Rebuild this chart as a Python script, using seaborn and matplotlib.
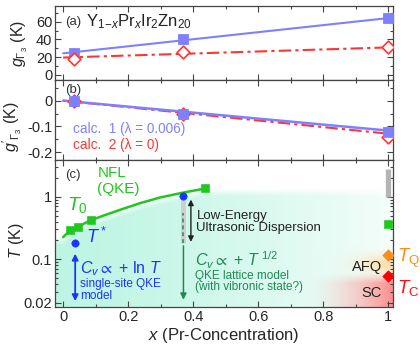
import numpy as np
import matplotlib
matplotlib.use("Agg")
import matplotlib.pyplot as plt
import seaborn as sns
from matplotlib.ticker import MultipleLocator, FixedLocator, FixedFormatter, LogLocator, NullFormatter

# ---------------------------------------------------------------
# data
# ---------------------------------------------------------------
conc = [0.034, 0.37, 1.0]
g_calc1 = [25, 40, 64]
g_calc2 = [18, 26, 31.5]
fit_x = [0.0, 1.0]
g_fit1 = [24.3, 64.3]
g_fit2 = [19.5, 31.0]

gp_calc1 = [0.0, -0.052, -0.12]
gp_calc2 = [0.0, -0.05, -0.14]
gp_fit1 = [0.0, -0.116]
gp_fit2 = [0.0, -0.128]

t0_x = [0.022, 0.045, 0.085, 0.437, 1.0]
t0_T = [0.29, 0.33, 0.42, 1.36, 0.365]
t0_curve_x = [0.0, 0.022, 0.045, 0.085, 0.12, 0.18, 0.24, 0.30, 0.37, 0.437]
t0_curve_T = [0.225, 0.29, 0.33, 0.42, 0.49, 0.63, 0.80, 0.98, 1.17, 1.36]
tstar_x = [0.037, 0.37]
tstar_T = [0.18, 1.02]
tq_x, tq_T = [1.0], [0.116]
tc_x, tc_T = [1.0], [0.053]

BLUE = "#8080ff"
RED = "#ff3535"
GREEN = "#1ec81e"
DKGREEN = "#1f8a55"
DOTBLUE = "#1a35ff"
ORANGE = "#ff8c1a"

sns.set_theme(style="ticks")
plt.rcParams["font.family"] = ["Liberation Sans", "DejaVu Sans"]
plt.rcParams["mathtext.fontset"] = "custom"
plt.rcParams["mathtext.rm"] = "Liberation Sans"
plt.rcParams["mathtext.it"] = "Liberation Sans:italic"
plt.rcParams["mathtext.bf"] = "Liberation Sans:bold"
plt.rcParams["mathtext.fallback"] = "stixsans"

XLIM = (-0.025, 1.015)
YLIM_C = (0.017, 3.9)

fig = plt.figure(figsize=(4.2, 3.54), dpi=100)
L, W = 0.131, 0.805
ax_a = fig.add_axes([L, 0.774, W, 0.209])
ax_b = fig.add_axes([L, 0.548, W, 0.226])
bg = fig.add_axes([L, 0.133, W, 0.415], zorder=0)
ax_c = fig.add_axes([L, 0.133, W, 0.415], zorder=1)

# --- background shading of panel (c) ---
H, Wp = 300, 400
fx = np.linspace(0, 1, Wp)[None, :]
fy = np.linspace(0, 1, H)[:, None]

def to_fy(T):
    T = np.asarray(T)
    return (np.log10(T) - np.log10(YLIM_C[0])) / (np.log10(YLIM_C[1]) - np.log10(YLIM_C[0]))

curve_fx = (np.array(t0_curve_x) - XLIM[0]) / (XLIM[1] - XLIM[0])
edge = np.interp(fx, curve_fx, to_fy(t0_curve_T))
s_c = (1 - 0.85 * fx ** 1.3) * np.clip((edge - fy) / 0.05, 0, 1)
s_o = 0.7 * np.exp(-(((fx - 1.0) / 0.10) ** 2 + ((fy - 0.29) / 0.065) ** 2))
s_r = 0.85 * np.clip((fx - 0.74) / 0.26, 0, 1) ** 1.6 * np.clip((0.23 - fy) / 0.07, 0, 1)
img = np.ones((H, Wp, 3))
for s, col in [(s_c, (0.74, 0.96, 0.89)), (s_o, (1.0, 0.82, 0.55)), (s_r, (1.0, 0.47, 0.47))]:
    s = np.broadcast_to(s, (H, Wp))[..., None]
    img = img * (1 - s) + np.array(col) * s
bg.imshow(img, extent=(0, 1, 0, 1), origin="lower", aspect="auto", interpolation="bilinear")
bg.set_axis_off()
ax_c.set_facecolor("none")

# --- (a) ---
sns.lineplot(x=fit_x, y=g_fit2, ax=ax_a, color=RED, lw=1.5, linestyle=(0, (6, 2, 1.5, 2)))
sns.lineplot(x=fit_x, y=g_fit1, ax=ax_a, color=BLUE, lw=1.5)
sns.scatterplot(x=conc, y=g_calc1, ax=ax_a, marker="s", s=55, color=BLUE, edgecolor=BLUE, zorder=4)
sns.scatterplot(x=conc, y=g_calc2, ax=ax_a, marker="D", s=42, facecolor="white",
                edgecolor=RED, linewidth=1.2, zorder=4)
ax_a.set_ylim(-6, 78)
ax_a.yaxis.set_major_locator(MultipleLocator(20))
ax_a.yaxis.set_minor_locator(MultipleLocator(10))
ax_a.set_ylabel(r"$g_{\Gamma_3}$ (K)", fontsize=11.5)
ax_a.yaxis.set_label_coords(-0.075, 0.5)
ax_a.text(0.006, 60, "(a)", fontsize=9.5, va="center", color="#333333")
ax_a.text(0.07, 60, r"Y$_{1\!-\!x}$Pr$_x$Ir$_2$Zn$_{20}$", fontsize=12, va="center", color="#222222")

# --- (b) ---
sns.lineplot(x=fit_x, y=gp_fit2, ax=ax_b, color=RED, lw=1.5, linestyle=(0, (6, 2, 1.5, 2)))
sns.lineplot(x=fit_x, y=gp_fit1, ax=ax_b, color=BLUE, lw=1.8)
sns.scatterplot(x=conc, y=gp_calc2, ax=ax_b, marker="D", s=42, facecolor="white",
                edgecolor=RED, linewidth=1.2, zorder=3)
sns.scatterplot(x=conc, y=gp_calc1, ax=ax_b, marker="s", s=55, color=BLUE, edgecolor=BLUE, zorder=4)
ax_b.set_ylim(-0.23, 0.08)
ax_b.yaxis.set_major_locator(FixedLocator([0, -0.1, -0.2]))
ax_b.yaxis.set_major_formatter(FixedFormatter(["0", "-0.1", "-0.2"]))
ax_b.yaxis.set_minor_locator(MultipleLocator(0.05))
ax_b.set_ylabel(r"$g'_{\Gamma_3}$ (K)", fontsize=11.5)
ax_b.yaxis.set_label_coords(-0.092, 0.42)
ax_b.text(0.006, 0.042, "(b)", fontsize=9.5, va="center", color="#333333")
ax_b.text(0.03, -0.109, "calc.  1 (\u03bb = 0.006)", fontsize=9.8, va="center", color=BLUE)
ax_b.text(0.03, -0.172, "calc.  2 (\u03bb = 0)", fontsize=9.8, va="center", color=RED)

# --- (c) ---
ax_c.set_yscale("log")
ax_c.plot([0.37, 0.37], [0.18, 1.0], color="#cfcfcf", lw=3.5, solid_capstyle="butt", zorder=2)
ax_c.plot([1.0, 1.0], [1.0, 2.8], color="#b4b4b4", lw=3.8, solid_capstyle="butt", zorder=2)
ax_c.plot([0.37, 0.37], [0.18, 0.55], color=DKGREEN, lw=1.1, ls=(0, (2.5, 2)), zorder=3)
ax_c.annotate("", xy=(0.37, 0.02), xytext=(0.37, 0.18),
              arrowprops=dict(arrowstyle="-|>", color=DKGREEN, lw=1.1, mutation_scale=9))
ax_c.annotate("", xy=(0.037, 0.019), xytext=(0.037, 0.135),
              arrowprops=dict(arrowstyle="<|-|>", color=DOTBLUE, lw=1.3, mutation_scale=9))
ax_c.annotate("", xy=(0.393, 0.17), xytext=(0.393, 1.0),
              arrowprops=dict(arrowstyle="<|-|>", color="#222222", lw=1.0, mutation_scale=8))
sns.lineplot(x=t0_curve_x, y=t0_curve_T, ax=ax_c, color=GREEN, lw=1.8, zorder=4)
sns.scatterplot(x=t0_x, y=t0_T, ax=ax_c, marker="s", s=30, color=GREEN, edgecolor=GREEN, zorder=5)
sns.scatterplot(x=tstar_x, y=tstar_T, ax=ax_c, marker="o", s=28, color=DOTBLUE, edgecolor=DOTBLUE, zorder=5)
sns.scatterplot(x=tq_x, y=tq_T, ax=ax_c, marker="D", s=34, color=ORANGE, edgecolor=ORANGE, zorder=5)
sns.scatterplot(x=tc_x, y=tc_T, ax=ax_c, marker="D", s=34, color="#ff0000", edgecolor="#ff0000", zorder=5)
ax_c.set_ylim(*YLIM_C)
ax_c.yaxis.set_major_locator(FixedLocator([0.02, 0.1, 1]))
ax_c.yaxis.set_major_formatter(FixedFormatter(["0.02", "0.1", "1"]))
ax_c.yaxis.set_minor_locator(LogLocator(base=10, subs=np.arange(2, 10)))
ax_c.yaxis.set_minor_formatter(NullFormatter())
ax_c.set_ylabel(r"$T$ (K)", fontsize=11.5)
ax_c.yaxis.set_label_coords(-0.085, 0.45)
ax_c.set_xlabel(r"$x$ (Pr-Concentration)", fontsize=12, labelpad=2)

ax_c.text(0.006, 2.25, "(c)", fontsize=9.5, va="center", color="#333333")
ax_c.text(0.105, 1.8, "NFL\n(QKE)", fontsize=11, va="center", color=GREEN, linespacing=1.15)
ax_c.text(0.012, 0.75, r"$T_0$", fontsize=14, va="center", color=GREEN)
ax_c.text(0.07, 0.23, r"$T^*$", fontsize=13, va="center", color=DOTBLUE)
ax_c.text(0.052, 0.069, r"$C_v \propto$ + ln $T$", fontsize=11.5, va="center", color=DOTBLUE)
ax_c.text(0.052, 0.032, "single-site QKE\nmodel", fontsize=8.5, va="center", color=DOTBLUE, linespacing=0.95)
ax_c.text(0.41, 0.40, "Low-Energy\nUltrasonic Dispersion", fontsize=9.5, va="center",
          color="#222222", linespacing=1.0)
ax_c.text(0.405, 0.096, r"$C_v \propto$ + $T^{\ 1/2}$", fontsize=11.5, va="center", color=DKGREEN)
ax_c.text(0.405, 0.0434, "QKE lattice model\n(with vibronic state?)", fontsize=8.5, va="center",
          color=DKGREEN, linespacing=0.95)
ax_c.text(0.98, 0.074, "AFQ", fontsize=10.5, ha="right", va="center", color="#222222")
ax_c.text(0.98, 0.0285, "SC", fontsize=10.5, ha="right", va="center", color="#222222")
ax_c.text(1.028, 0.104, r"$T_\mathrm{Q}$", fontsize=13.5, va="center", color=ORANGE, clip_on=False)
ax_c.text(1.028, 0.034, r"$T_\mathrm{C}$", fontsize=13.5, va="center", color="#ff1010", clip_on=False)

# --- common axis styling ---
for ax in (ax_a, ax_b, ax_c):
    ax.set_xlim(*XLIM)
    ax.xaxis.set_major_locator(MultipleLocator(0.2))
    ax.xaxis.set_minor_locator(MultipleLocator(0.1))
    ax.tick_params(which="both", direction="in", top=True, right=True,
                   color="#444444", width=0.8, labelsize=10.5, pad=2)
    ax.tick_params(which="major", length=4)
    ax.tick_params(which="minor", length=2.5)
    for sp in ax.spines.values():
        sp.set_color("#444444")
        sp.set_linewidth(0.9)
for ax in (ax_a, ax_b):
    ax.tick_params(labelbottom=False)
    ax.set_xlabel("")
ax_c.xaxis.set_major_locator(FixedLocator([0, 0.2, 0.4, 0.6, 0.8, 1.0]))
ax_c.xaxis.set_major_formatter(FixedFormatter(["0", "0.2", "0.4", "0.6", "0.8", "1"]))

fig.savefig("out.png", dpi=100)
